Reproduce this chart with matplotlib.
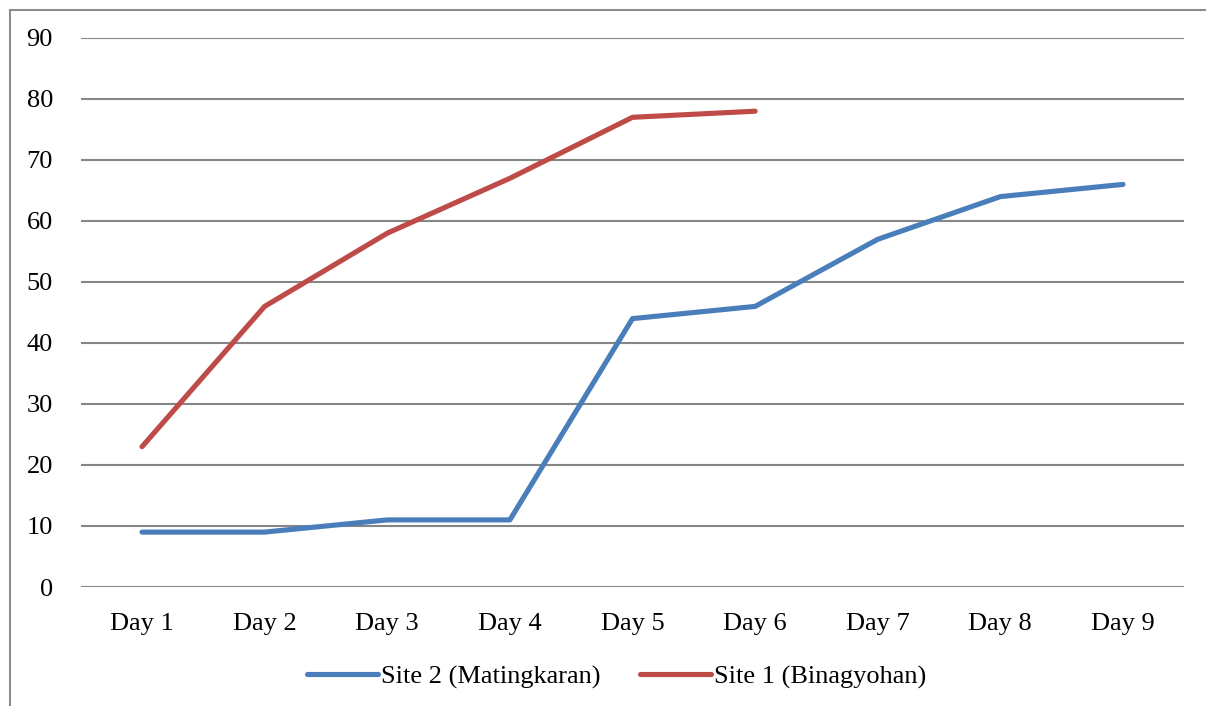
import matplotlib
matplotlib.use("Agg")
import matplotlib.pyplot as plt
from matplotlib.patches import Rectangle

# data
days = ["Day 1", "Day 2", "Day 3", "Day 4", "Day 5", "Day 6", "Day 7", "Day 8", "Day 9"]
site2_matingkaran = [9, 9, 11, 11, 44, 46, 57, 64, 66]
site1_binagyohan = [23, 46, 58, 67, 77, 78]
y_ticks = [0, 10, 20, 30, 40, 50, 60, 70, 80, 90]

plt.rcParams["font.family"] = ["Liberation Serif", "DejaVu Serif"]
plt.rcParams["font.size"] = 19

fig = plt.figure(figsize=(12.06, 7.06), dpi=100)
W, H = 1206, 706
ax = fig.add_axes([80.7 / W, 1 - 587 / H, (1184.3 - 80.7) / W, (587 - 38) / H])

# chart border (partially visible)
fig.patches.append(Rectangle((10 / W, -0.1), 1.1, 1 - 10 / H + 0.1, transform=fig.transFigure,
                             fill=False, edgecolor="#8c8c8c", linewidth=1.5))

x2 = list(range(len(site2_matingkaran)))
x1 = list(range(len(site1_binagyohan)))
ax.plot(x2, site2_matingkaran, color="#4a7ebb", lw=3.7, solid_capstyle="round",
        solid_joinstyle="round", label="Site 2 (Matingkaran)")
ax.plot(x1, site1_binagyohan, color="#be4b48", lw=3.7, solid_capstyle="round",
        solid_joinstyle="round", label="Site 1 (Binagyohan)")

ax.set_xlim(-0.5, len(days) - 0.5)
ax.set_ylim(0, 90)
ax.set_xticks(range(len(days)))
ax.set_xticklabels(days)
ax.set_yticks(y_ticks)
ax.tick_params(length=0)
ax.tick_params(axis="y", pad=20)
ax.tick_params(axis="x", pad=19)
ax.yaxis.grid(True, color="#868686", lw=1.5)
ax.set_axisbelow(True)
for s in ax.spines.values():
    s.set_visible(False)

ax.legend(loc="center", bbox_to_anchor=(0.511, 0.041), bbox_transform=fig.transFigure,
          ncol=2, frameon=False, handlelength=2.7, handletextpad=0.1, columnspacing=1.5)

fig.savefig("out.png", dpi=100)
